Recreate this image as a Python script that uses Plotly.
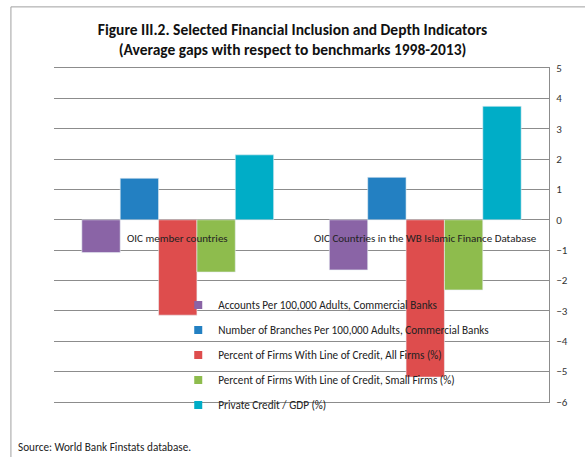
import plotly.graph_objects as go

groups = ["OIC member countries", "OIC Countries in the WB Islamic Finance Database"]
series_names = [
    "Accounts Per 100,000 Adults, Commercial Banks",
    "Number of Branches Per 100,000 Adults, Commercial Banks",
    "Percent of Firms With Line of Credit, All Firms (%)",
    "Percent of Firms With Line of Credit, Small Firms (%)",
    "Private Credit / GDP (%)",
]
accounts = [-1.08, -1.65]
branches = [1.37, 1.40]
credit_all = [-3.14, -5.18]
credit_small = [-1.72, -2.31]
private_credit = [2.14, 3.74]
y_ticks = list(range(-6, 6))

FONT = "Carlito, Liberation Sans Narrow, Arial Narrow, sans-serif"
colors = ["#8A64A6", "#2380C2", "#DE4D4D", "#8EBC4D", "#00ADC7"]

fig = go.Figure()
for i, (name, vals) in enumerate(zip(series_names,
                                     [accounts, branches, credit_all, credit_small, private_credit])):
    fig.add_trace(go.Bar(x=groups, y=vals, name=name, legendgroup=f"g{i}", showlegend=False,
                         marker=dict(color=colors[i], line=dict(color="#e8eef4", width=0.6))))
    # legend-only twin so the key uses Excel's small square swatch
    fig.add_trace(go.Scatter(x=[None], y=[None], mode="markers", name=name, legendgroup=f"g{i}",
                             marker=dict(symbol="square", size=8, color=colors[i])))

# category labels sit just under the zero line, like Excel's axis labels
for g in groups:
    fig.add_annotation(x=g, y=0, yshift=-19, text=g, showarrow=False,
                       font=dict(family=FONT, size=11, color="#222"))

fig.add_annotation(xref="paper", yref="paper", x=-0.076, y=-0.135, xanchor="left",
                   yanchor="middle", text="Source: World Bank Finstats database.", showarrow=False,
                   font=dict(family=FONT, size=11.2, color="#222"))

# outer chart frame (left and top edges visible)
fig.add_shape(type="line", xref="paper", yref="paper", x0=-0.087, x1=-0.087, y0=-0.2, y1=1.183,
              line=dict(color="#a0a0a0", width=1))
fig.add_shape(type="line", xref="paper", yref="paper", x0=-0.087, x1=1.1, y0=1.183, y1=1.183,
              line=dict(color="#a0a0a0", width=1))

fig.update_layout(
    width=585, height=457,
    margin=dict(l=54, r=36, t=68, b=55),
    paper_bgcolor="white", plot_bgcolor="white",
    barmode="group", bargap=0.225, bargroupgap=0,
    title=dict(text="Figure III.2. Selected Financial Inclusion and Depth Indicators<br>"
                    "(Average gaps with respect to benchmarks 1998-2013)",
               x=0.5, xanchor="center", y=0.923, yanchor="middle",
               font=dict(family=FONT, size=15.5, color="#111", weight="bold")),
    legend=dict(x=0.251, y=0.334, xanchor="left", yanchor="top", bgcolor="rgba(0,0,0,0)",
                tracegroupgap=6, font=dict(family=FONT, size=11.2, color="#222")),
    font=dict(family=FONT),
)
fig.update_xaxes(showticklabels=False, showgrid=False, zeroline=False, ticks="",
                 showline=True, mirror=True, linecolor="#8c8c8c", linewidth=1)
fig.update_yaxes(side="right", range=[-6, 5], tickvals=y_ticks, showgrid=True,
                 gridcolor="#8c8c8c", gridwidth=1, zeroline=True, zerolinecolor="#8c8c8c",
                 zerolinewidth=1, showline=True, linecolor="#8c8c8c", linewidth=1,
                 tickfont=dict(family=FONT, size=11, color="#333"), ticks="", ticklabelstandoff=4)

# drop the default page margin so the 585x457 figure fills the window exactly
fig.write_html("out.html", config={"displayModeBar": False},
               post_script="document.body.style.margin='0';")
